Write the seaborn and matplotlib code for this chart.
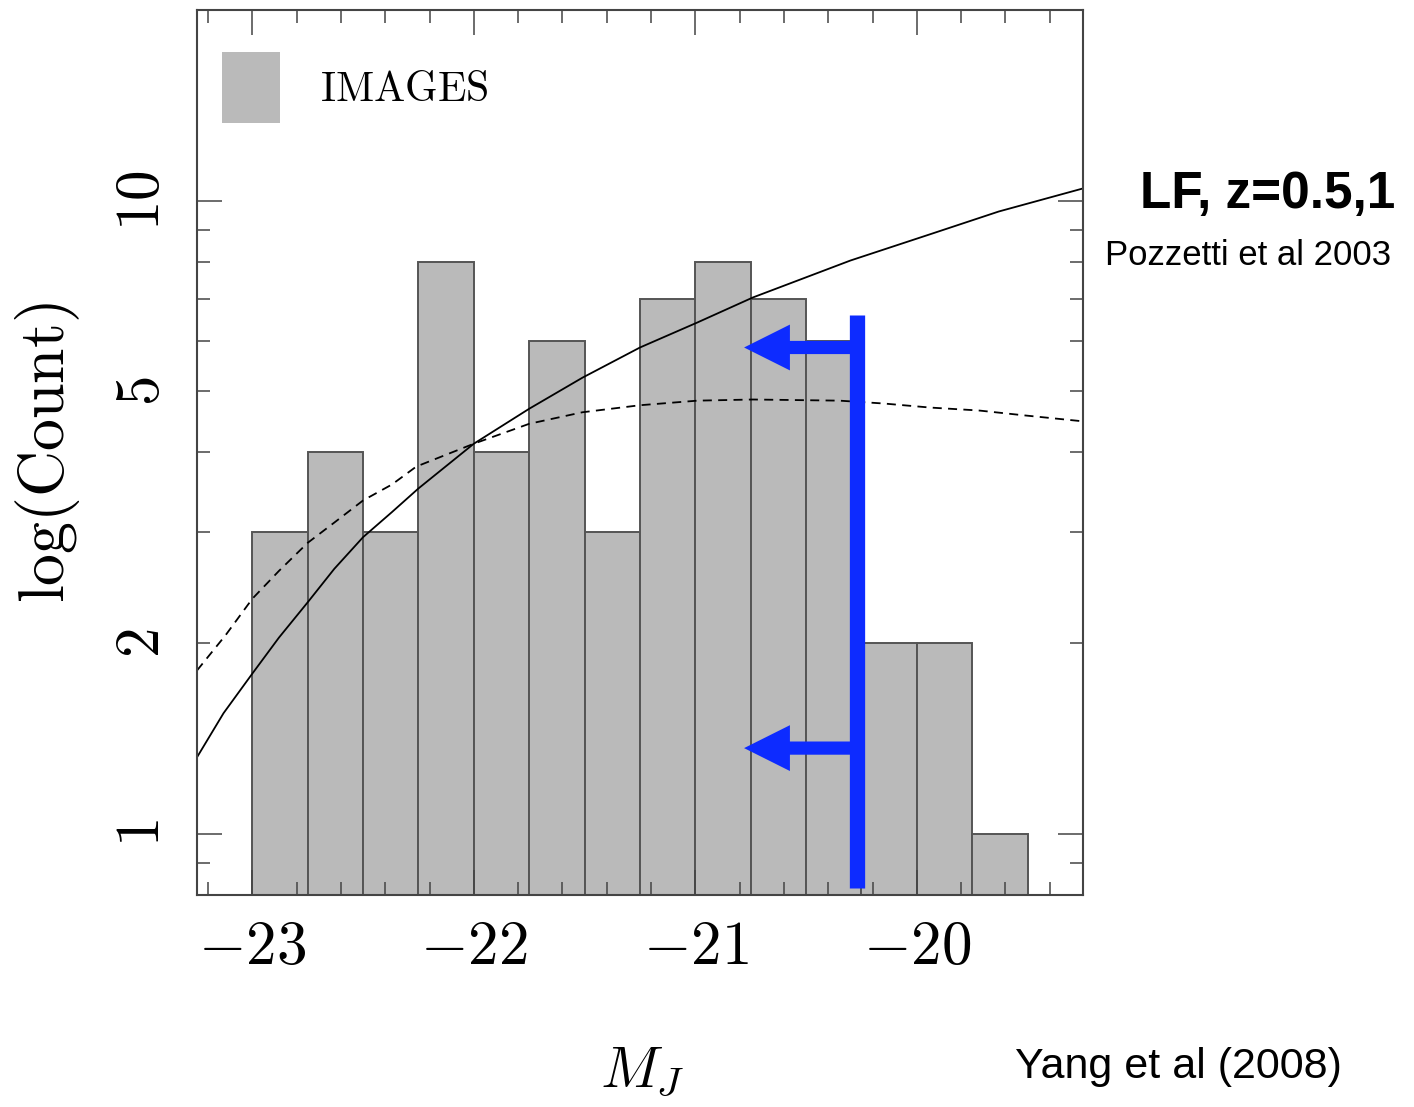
import numpy as np
import matplotlib
matplotlib.use('Agg')
import matplotlib.pyplot as plt
from matplotlib.patches import Patch
from matplotlib.ticker import FixedLocator, FuncFormatter
import seaborn as sns

# histogram of J-band absolute magnitudes (IMAGES sample)
bin_edges = [-23.0, -22.75, -22.5, -22.25, -22.0, -21.75, -21.5, -21.25,
             -21.0, -20.75, -20.5, -20.25, -20.0, -19.75, -19.5]
bin_centers = [-22.875, -22.625, -22.375, -22.125, -21.875, -21.625, -21.375,
               -21.125, -20.875, -20.625, -20.375, -20.125, -19.875, -19.625]
counts = [3, 4, 3, 8, 4, 6, 3, 7, 8, 7, 6, 2, 2, 1]

# luminosity functions (Pozzetti et al 2003)
solid_mag = [-23.25, -23.13, -23.0, -22.88, -22.75, -22.63, -22.5, -22.37,
             -22.25, -22.0, -21.75, -21.51, -21.25, -20.99, -20.74, -20.3,
             -19.93, -19.63, -19.25]
solid_n = [1.32, 1.55, 1.79, 2.04, 2.32, 2.62, 2.94, 3.22,
           3.51, 4.13, 4.69, 5.25, 5.86, 6.42, 7.03, 8.04,
           8.87, 9.61, 10.45]
dashed_mag = [-23.25, -23.12, -23.0, -22.88, -22.75, -22.63, -22.5, -22.37,
              -22.26, -22.0, -21.75, -21.51, -21.25, -20.99, -20.74, -20.35,
              -20.15, -19.94, -19.72, -19.52, -19.25]
dashed_n = [1.81, 2.06, 2.35, 2.60, 2.88, 3.10, 3.36, 3.56,
            3.80, 4.13, 4.44, 4.63, 4.75, 4.83, 4.85, 4.83,
            4.78, 4.71, 4.66, 4.58, 4.48]

# blue completeness-limit annotation
limit_mag = -20.27
limit_span = [0.82, 6.6]
arrow_levels = [5.86, 1.365]
arrow_tip_mag = -20.78

sns.set_style('ticks')
plt.rcParams['mathtext.fontset'] = 'cm'
plt.rcParams['font.family'] = ['Liberation Sans', 'DejaVu Sans']

fig = plt.figure(figsize=(14.14, 11.07), dpi=100)
ax = fig.add_axes([0.1393, 0.1915, 0.6266, 0.7995])
ax.set_axisbelow(False)

sns.histplot(x=bin_centers, weights=counts, bins=bin_edges, ax=ax,
             color='#bababa', edgecolor='#555555', linewidth=1.4, alpha=1)
ax.set_yscale('log')

sns.lineplot(x=solid_mag, y=solid_n, ax=ax, color='black', lw=1.3, sort=False)
sns.lineplot(x=dashed_mag, y=dashed_n, ax=ax, color='black', lw=1.3,
             sort=False, linestyle=(0, (5, 3.5)))

blue = '#0d2bff'
ax.plot([limit_mag, limit_mag], limit_span, color=blue, lw=11,
        solid_capstyle='butt', zorder=5)
for lev in arrow_levels:
    ax.annotate('', xy=(arrow_tip_mag, lev), xytext=(limit_mag, lev),
                arrowprops=dict(arrowstyle='simple,head_length=33,head_width=33,tail_width=9.5',
                                mutation_scale=1, fc=blue, ec='none', lw=0,
                                shrinkA=0, shrinkB=0), zorder=5)

ax.set_xlim(-23.25, -19.25)
ax.set_ylim(0.8, 20)

# ticks
ax.xaxis.set_major_locator(FixedLocator([-23, -22, -21, -20]))
ax.xaxis.set_minor_locator(FixedLocator(np.round(np.arange(-23.2, -19.2, 0.2), 1)))
ax.set_xticklabels(['$-23$', '$-22$', '$-21$', '$-20$'])
ax.yaxis.set_major_locator(FixedLocator([1, 10]))
ax.yaxis.set_minor_locator(FixedLocator([0.8, 0.9, 2, 3, 4, 5, 6, 7, 8, 9, 20]))
ax.yaxis.set_major_formatter(FuncFormatter(lambda v, p: '$%d$' % v))
ax.yaxis.set_minor_formatter(FuncFormatter(lambda v, p: '$%d$' % v if v in (2, 5) else ''))

ax.tick_params(which='both', direction='in', top=True, right=True,
               color='#444444', width=1.1, labelcolor='black')
ax.tick_params(which='major', length=18)
ax.tick_params(which='minor', length=9.5)
ax.tick_params(axis='x', which='major', labelsize=44, pad=18)
ax.tick_params(axis='y', which='both', labelsize=44, pad=18, labelrotation=90)
for lab in ax.get_yticklabels(which='both'):
    lab.set_va('center')

for sp in ax.spines.values():
    sp.set_color('#444444')
    sp.set_linewidth(1.5)

ax.set_ylabel(r'$\mathrm{log(Count)}$', fontsize=46, color='black')
ax.yaxis.set_label_coords(-0.13, 0.5)
ax.set_xlabel(r'$M_J$', fontsize=42, color='black')
ax.xaxis.set_label_coords(0.502, -0.17)

leg = ax.legend(handles=[Patch(facecolor='#bababa', edgecolor='none', label=r'$\mathrm{IMAGES}$')],
                loc='upper left', bbox_to_anchor=(0.0282, 0.9525), frameon=False,
                borderpad=0, borderaxespad=0, fontsize=30, handlelength=1.4,
                handleheight=2.25, handletextpad=0.95)
for t in leg.get_texts():
    t.set_color('black')

fig.text(1395 / 1414, 1 - 208 / 1107, 'LF, z=0.5,1', fontsize=37,
         fontweight='bold', ha='right', va='baseline', color='black')
fig.text(1105 / 1414, 1 - 265 / 1107, 'Pozzetti et al 2003', fontsize=25,
         ha='left', va='baseline', color='black')
fig.text(1015 / 1414, 1 - 1078 / 1107, 'Yang et al (2008)', fontsize=31,
         ha='left', va='baseline', color='black')

fig.savefig('out.png', dpi=100)
